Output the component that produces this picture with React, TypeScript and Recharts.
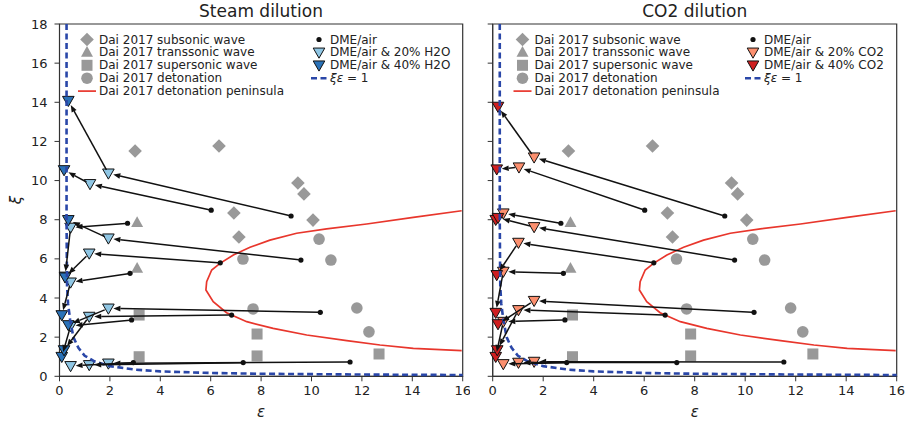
import React from "react";
import { ComposedChart, Scatter, XAxis, YAxis, ReferenceArea } from "recharts";

type Pt = { x: number; y: number };
type Tup = [number, number];

const X_TICKS = [0, 2, 4, 6, 8, 10, 12, 14, 16];
const Y_TICKS = [0, 2, 4, 6, 8, 10, 12, 14, 16, 18];

// Dai 2017 reference points (same in both panels)
const daiSubsonic: Tup[] = [[3.0, 11.51], [6.33, 11.77], [9.46, 9.88], [9.7, 9.32], [10.06, 7.98], [6.92, 8.34], [7.12, 7.12]];
const daiTranssonic: Tup[] = [[3.08, 7.87], [3.08, 5.53]];
const daiSupersonic: Tup[] = [[3.16, 3.13], [3.16, 1.0], [7.84, 2.16], [7.84, 1.04], [12.68, 1.14]];
const daiDetonation: Tup[] = [[7.28, 5.99], [10.3, 7.01], [10.77, 5.94], [7.68, 3.44], [11.8, 3.49], [12.28, 2.27]];
const peninsula: Tup[] = [
  [15.96, 8.46], [14.04, 8.12], [12.19, 7.78], [10.6, 7.53], [9.41, 7.31], [8.35, 6.96], [7.56, 6.59],
  [6.9, 6.2], [6.37, 5.77], [6.04, 5.43], [5.84, 4.83], [5.81, 4.41], [6.1, 3.81], [6.63, 3.25],
  [7.43, 2.79], [8.48, 2.45], [9.81, 2.11], [11.4, 1.82], [12.72, 1.6], [14.04, 1.43], [15.96, 1.31],
];
const xiEpsOne: Tup[] = [
  [0.28, 18], [0.28, 12], [0.28, 8], [0.29, 6], [0.3, 4.6], [0.34, 3.7], [0.42, 2.9], [0.55, 2.0],
  [0.75, 1.45], [1.0, 1.05], [1.4, 0.75], [2.0, 0.52], [3.0, 0.34], [4.0, 0.25], [6.0, 0.17],
  [8.0, 0.13], [12.0, 0.09], [16.0, 0.065],
];

// DME/air experiments, ordered group by group (low, mid, high epsilon)
const dmeAir: Tup[] = [
  [2.7, 7.82], [6.02, 8.49], [9.19, 8.19],
  [2.8, 5.26], [6.38, 5.8], [9.58, 5.94],
  [2.86, 2.88], [6.83, 3.13], [10.35, 3.27],
  [2.93, 0.7], [7.29, 0.7], [11.53, 0.73],
];
const steam20: Tup[] = [
  [0.44, 7.6], [1.21, 9.83], [1.94, 10.37],
  [0.44, 4.8], [1.18, 6.28], [1.94, 7.05],
  [0.44, 2.57], [1.18, 3.05], [1.94, 3.47],
  [0.44, 0.53], [1.18, 0.58], [1.94, 0.66],
];
const steam40: (Tup | null)[] = [
  [0.22, 5.1], [0.18, 10.54], [0.35, 14.08],
  [0.09, 3.13], [0.22, 5.06], [0.35, 7.99],
  [0.09, 1.0], [0.18, 1.34], [0.35, 2.62],
  null, null, null,
];
const co220: Tup[] = [
  [0.42, 8.33], [1.04, 10.68], [1.64, 11.19],
  [0.42, 5.35], [1.02, 6.83], [1.64, 7.63],
  [0.42, 2.79], [1.02, 3.39], [1.64, 3.86],
  [0.42, 0.63], [1.02, 0.7], [1.64, 0.75],
];
const co240: (Tup | null)[] = [
  [0.12, 8.0], [0.16, 10.58], [0.21, 13.78],
  [0.12, 3.25], [0.16, 5.18], [0.21, 8.1],
  [0.12, 1.0], [0.18, 1.34], [0.21, 2.67],
  null, null, null,
];

const GRAY = "#999999";
const STEAM_LIGHT = "#8fc6e4";
const STEAM_DARK = "#2a72b8";
const CO2_LIGHT = "#fb8f6e";
const CO2_DARK = "#cf1f20";
const RED = "#e8362c";
const BLUE = "#2a47a8";
const INK = "#222222";
const FONT = "'DejaVu Sans', sans-serif";

const pts = (a: Tup[]): Pt[] => a.map(([x, y]) => ({ x, y }));

function Diamond({ cx, cy }: any) {
  const r = 6.8;
  return <polygon points={`${cx},${cy - r} ${cx + r},${cy} ${cx},${cy + r} ${cx - r},${cy}`} fill={GRAY} />;
}
function TriUp({ cx, cy }: any) {
  const r = 6;
  return <polygon points={`${cx},${cy - r} ${cx + r},${cy + r * 0.8} ${cx - r},${cy + r * 0.8}`} fill={GRAY} />;
}
function Square({ cx, cy }: any) {
  return <rect x={cx - 5.5} y={cy - 5.5} width={11} height={11} fill={GRAY} />;
}
function Circle({ cx, cy }: any) {
  return <circle cx={cx} cy={cy} r={5.8} fill={GRAY} />;
}
function Dot({ cx, cy }: any) {
  return <circle cx={cx} cy={cy} r={2.6} fill="#111" />;
}
function TriDown({ cx, cy, fill }: any) {
  const r = 5.8;
  return (
    <polygon
      points={`${cx - r},${cy - r * 0.75} ${cx + r},${cy - r * 0.75} ${cx},${cy + r}`}
      fill={fill}
      stroke="#111"
      strokeWidth={1}
    />
  );
}
const none = () => <g />;

function arrowLine(props: any) {
  const p = props.points as { x: number; y: number }[];
  const out: React.ReactNode[] = [];
  for (let i = 0; i < p.length - 1; i++) {
    const a = p[i];
    const b = p[i + 1];
    const dx = b.x - a.x;
    const dy = b.y - a.y;
    const L = Math.hypot(dx, dy);
    if (L < 12) continue;
    const ux = dx / L;
    const uy = dy / L;
    const sA = i === 0 ? 2 : 4;
    const sB = 5;
    const x1 = a.x + ux * sA;
    const y1 = a.y + uy * sA;
    const x2 = b.x - ux * sB;
    const y2 = b.y - uy * sB;
    const hl = 7;
    const hw = 2.8;
    const bx = x2 - ux * hl;
    const by = y2 - uy * hl;
    out.push(
      <g key={i}>
        <line x1={x1} y1={y1} x2={bx} y2={by} stroke="#111" strokeWidth={1.5} />
        <polygon points={`${x2},${y2} ${bx - uy * hw},${by + ux * hw} ${bx + uy * hw},${by - ux * hw}`} fill="#111" />
      </g>,
    );
  }
  return <g>{out}</g>;
}

function Panel({
  w,
  yAxisW,
  right,
  showY,
  light,
  dark,
  lightCol,
  darkCol,
}: {
  w: number;
  yAxisW: number;
  right: number;
  showY: boolean;
  light: Tup[];
  dark: (Tup | null)[];
  lightCol: string;
  darkCol: string;
}) {
  const chains = dmeAir.map((d, i) => {
    const c: Tup[] = [d, light[i]];
    const k = dark[i];
    if (k) c.push(k);
    return pts(c);
  });
  const darkPts = pts(dark.filter((d): d is Tup => d !== null));
  const tick = { fill: INK, fontSize: 13, fontFamily: FONT };
  return (
    <ComposedChart width={w} height={425} margin={{ top: 24, right, left: 0, bottom: 18.7 }}>
      <XAxis
        type="number"
        dataKey="x"
        domain={[0, 16]}
        ticks={X_TICKS}
        interval={0}
        tick={tick}
        tickSize={5}
        tickMargin={4}
        height={30}
        stroke="#333"
      />
      <YAxis
        type="number"
        dataKey="y"
        domain={[0, 18]}
        ticks={Y_TICKS}
        interval={0}
        tick={tick}
        tickFormatter={showY ? (v: number) => String(v) : () => ""}
        tickSize={5}
        tickMargin={7}
        width={yAxisW}
        stroke="#333"
      />
      <ReferenceArea x1={0} x2={16} y1={0} y2={18} fill="none" stroke="#333" strokeWidth={1.2} ifOverflow="visible" />
      <Scatter data={pts(daiSubsonic)} shape={Diamond} isAnimationActive={false} />
      <Scatter data={pts(daiTranssonic)} shape={TriUp} isAnimationActive={false} />
      <Scatter data={pts(daiSupersonic)} shape={Square} isAnimationActive={false} />
      <Scatter data={pts(daiDetonation)} shape={Circle} isAnimationActive={false} />
      <Scatter
        data={pts(peninsula)}
        shape={none}
        line={{ stroke: RED, strokeWidth: 1.7 }}
        lineType="joint"
        isAnimationActive={false}
      />
      <Scatter data={pts(dmeAir)} shape={Dot} isAnimationActive={false} />
      <Scatter data={pts(light)} shape={(p: any) => <TriDown cx={p.cx} cy={p.cy} fill={lightCol} />} isAnimationActive={false} />
      <Scatter data={darkPts} shape={(p: any) => <TriDown cx={p.cx} cy={p.cy} fill={darkCol} />} isAnimationActive={false} />
      <Scatter
        data={pts(xiEpsOne)}
        shape={none}
        line={{ stroke: BLUE, strokeWidth: 2.6, strokeDasharray: "6 3.5" }}
        lineType="joint"
        isAnimationActive={false}
      />
      {chains.map((c, i) => (
        <Scatter key={i} data={c} shape={none} line={arrowLine} lineType="joint" isAnimationActive={false} />
      ))}
    </ComposedChart>
  );
}

function Legend({ x1, x2, lightCol, darkCol, gas }: { x1: number; x2: number; lightCol: string; darkCol: string; gas: string }) {
  const y0 = 39.5;
  const dy = 12.9;
  const ts = { fontSize: 12, fontFamily: FONT, fill: INK } as const;
  const col1 = ["Dai 2017 subsonic wave", "Dai 2017 transsonic wave", "Dai 2017 supersonic wave", "Dai 2017 detonation", "Dai 2017 detonation peninsula"];
  const col2 = ["DME/air", `DME/air & 20% ${gas}`, `DME/air & 40% ${gas}`];
  return (
    <g>
      <Diamond cx={x1} cy={y0} />
      <TriUp cx={x1} cy={y0 + dy - 0.5} />
      <Square cx={x1} cy={y0 + 2 * dy} />
      <Circle cx={x1} cy={y0 + 3 * dy} />
      <line x1={x1 - 9} x2={x1 + 9} y1={y0 + 4 * dy} y2={y0 + 4 * dy} stroke={RED} strokeWidth={1.7} />
      {col1.map((t, i) => (
        <text key={t} x={x1 + 12} y={y0 + i * dy} dominantBaseline="central" {...ts}>
          {t}
        </text>
      ))}
      <Dot cx={x2} cy={y0} />
      <TriDown cx={x2} cy={y0 + dy} fill={lightCol} />
      <TriDown cx={x2} cy={y0 + 2 * dy} fill={darkCol} />
      <line x1={x2 - 8} x2={x2 + 8} y1={y0 + 3 * dy} y2={y0 + 3 * dy} stroke={BLUE} strokeWidth={2.6} strokeDasharray="6 3.5" />
      {col2.map((t, i) => (
        <text key={t} x={x2 + 11} y={y0 + i * dy} dominantBaseline="central" {...ts}>
          {t}
        </text>
      ))}
      <text x={x2 + 11} y={y0 + 3 * dy} dominantBaseline="central" {...ts}>
        <tspan fontStyle="italic">ξε</tspan> = 1
      </text>
    </g>
  );
}

export default function App() {
  return (
    <div style={{ position: "absolute", left: 0, top: 0, width: 921, height: 425, background: "#fff", fontFamily: FONT }}>
      <div style={{ position: "absolute", left: 0, top: 0 }}>
        <Panel w={470} yAxisW={59.5} right={7.3} showY light={steam20} dark={steam40} lightCol={STEAM_LIGHT} darkCol={STEAM_DARK} />
      </div>
      <div style={{ position: "absolute", left: 480, top: 0 }}>
        <Panel w={441} yAxisW={12.7} right={24.3} showY={false} light={co220} dark={co240} lightCol={CO2_LIGHT} darkCol={CO2_DARK} />
      </div>
      <svg width={921} height={425} style={{ position: "absolute", left: 0, top: 0, pointerEvents: "none" }}>
        <Legend x1={87} x2={319} lightCol={STEAM_LIGHT} darkCol={STEAM_DARK} gas="H2O" />
        <Legend x1={522.5} x2={753} lightCol={CO2_LIGHT} darkCol={CO2_DARK} gas="CO2" />
        <text x={261} y={10.5} textAnchor="middle" dominantBaseline="central" fontSize={17} fontFamily={FONT} fill={INK}>
          Steam dilution
        </text>
        <text x={694.7} y={10.5} textAnchor="middle" dominantBaseline="central" fontSize={17} fontFamily={FONT} fill={INK}>
          CO2 dilution
        </text>
        <text x={261} y={412} textAnchor="middle" dominantBaseline="central" fontSize={15} fontStyle="italic" fontFamily={FONT} fill={INK}>
          ε
        </text>
        <text x={694.7} y={412} textAnchor="middle" dominantBaseline="central" fontSize={15} fontStyle="italic" fontFamily={FONT} fill={INK}>
          ε
        </text>
        <text x={16} y={200} textAnchor="middle" dominantBaseline="central" fontSize={15} fontStyle="italic" fontFamily={FONT} fill={INK} transform="rotate(-90 16 200)">
          ξ
        </text>
      </svg>
    </div>
  );
}
